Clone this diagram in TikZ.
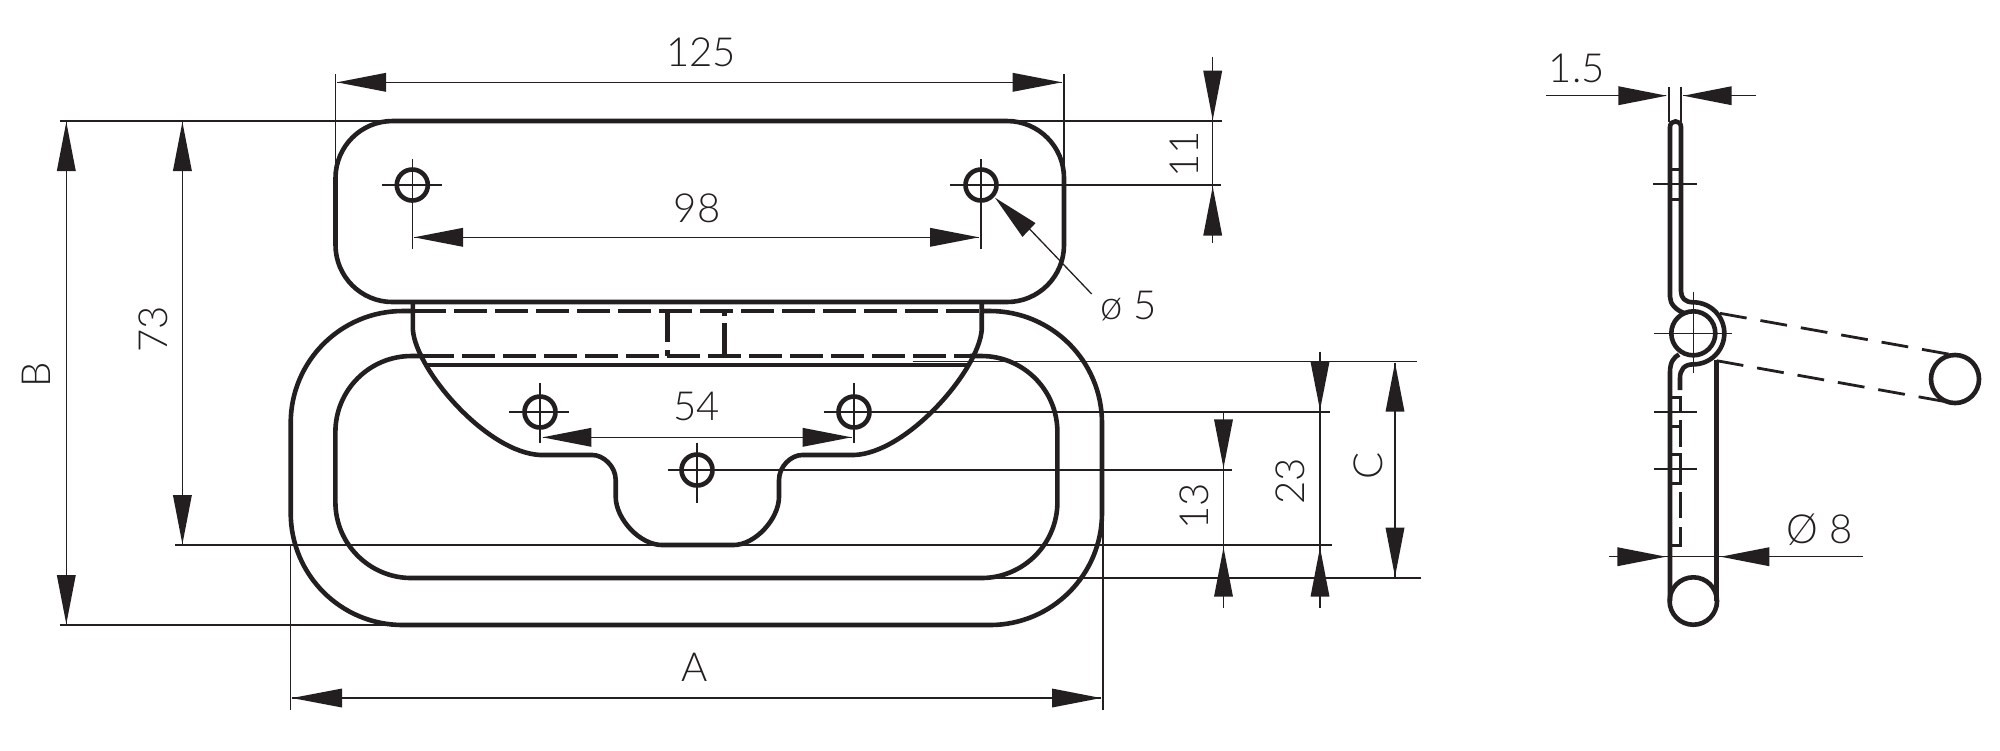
\documentclass[tikz,border=0pt]{standalone}
\usepackage{fontspec}
\setmainfont{Lato}[UprightFont=* Light]
\usetikzlibrary{calc}
\definecolor{ink}{HTML}{231F20}
\tikzset{
  thickl/.style={draw=ink,line width=.046cm,line join=round},
  thinl/.style={draw=ink,line width=.013cm},
  hidl/.style={draw=ink,line width=.046cm,dash pattern=on .33cm off .08cm},
  swingl/.style={draw=ink,line width=.028cm,dash pattern=on .27cm off .14cm},
  lbl/.style={text=ink,inner sep=0pt,font=\fontsize{11.4}{13}\selectfont},
}
\newcommand{\tip}[2]{\fill[ink] (#2) -- ($(#1)!.095cm!90:(#2)$) -- ($(#1)!.095cm!-90:(#2)$) -- cycle;}
\begin{document}
\begin{tikzpicture}[x=.01cm,y=-.01cm]
\useasboundingbox (0,0) rectangle (2000,750);
% ---- top plate
\draw[thickl,rounded corners=.57cm] (335.5,121) rectangle (1064,302);
\draw[thickl] (412.3,185) circle[radius=.155cm];
\draw[thickl] (981,185) circle[radius=.155cm];
% ---- ring
\draw[thickl,rounded corners=1.12cm] (413,311) -- (290.7,311) -- (290.7,625) -- (1102,625) -- (1102,311) -- (981.6,311);
\draw[thickl,rounded corners=.76cm] (423,356) -- (335.4,356) -- (335.4,578) -- (1057.4,578) -- (1057.4,356) -- (970,356);
\draw[hidl] (413,311) -- (981.6,311);
\draw[hidl] (421,356) -- (970,356);
\draw[thickl] (426,365) -- (968,365);
\draw[thickl] (667.5,311) -- (667.5,341.7) (667.5,350) -- (667.5,356);
\draw[thickl] (724.6,311) -- (724.6,316) (724.6,323) -- (724.6,356);
% ---- tongue
\draw[thickl] (412.9,302) -- (412.9,330)
  .. controls (416,370) and (487,453) .. (540.7,455) -- (592.5,455)
  .. controls (603,455) and (615.7,466) .. (615.7,480) -- (615.7,496.7)
  .. controls (615.7,519) and (640,545) .. (662,545) -- (733.6,545)
  .. controls (755,545) and (779,519) .. (779,496.7) -- (779,480)
  .. controls (779,466) and (791.5,455) .. (802,455) -- (853.9,455)
  .. controls (907.6,453) and (978.6,370) .. (981.7,330) -- (981.7,302);
\draw[thickl] (540,412) circle[radius=.155cm];
\draw[thickl] (854,412) circle[radius=.155cm];
\draw[thickl] (697,470) circle[radius=.155cm];
% ---- centre lines
\draw[thinl] (382,185) -- (441.7,185) (412.3,159) -- (412.3,249);
\draw[thinl] (950,185) -- (1220.7,185) (981,159) -- (981,249);
\draw[thinl] (509,412) -- (568.6,412) (540,382.7) -- (540,443.3);
\draw[thinl] (823.6,412) -- (1329.9,412) (854,382.7) -- (854,443.3);
\draw[thinl] (668,470) -- (1231.5,470) (697,442.7) -- (697,503);
% ---- extension lines
\draw[thinl] (60,121) -- (1222,121);
\draw[thinl] (60,625) -- (400,625);
\draw[thinl] (175,545) -- (1332,545);
\draw[thinl] (985,578) -- (1421,578);
\draw[thinl] (912.7,361.7) -- (1417,361.7);
\draw[thinl] (335.5,74) -- (335.5,170);
\draw[thinl] (1064,74) -- (1064,170);
\draw[thinl] (290.7,545) -- (290.7,710);
\draw[thinl] (1103,515) -- (1103,710);
% ---- dim 125
\draw[thinl] (337,82.3) -- (1062,82.3);
\tip{386,82.3}{337,82.3}\tip{1012.7,82.3}{1062,82.3}
\node[lbl] (t125) at (701,52.7) {125};
% ---- dim 98
\draw[thinl] (414,237.3) -- (979,237.3);
\tip{463,237.3}{414,237.3}\tip{930,237.3}{979,237.3}
\node[lbl] (t98) at (697,208) {98};
% ---- dim 11
\draw[thinl] (1212.7,57) -- (1212.7,243);
\tip{1212.7,70.7}{1212.7,120}\tip{1212.7,235.7}{1212.7,186.7}
\node[lbl,rotate=90] (t11) at (1184,154) {11};
% ---- dia 5
\draw[thinl] (1027.7,227) -- (1091.7,294);
\tip{1029,230}{995,197.7}
\node[lbl] (td5) at (1129,306) {ø 5};
% ---- dim 54
\draw[thinl] (542.5,437.3) -- (851.5,437.3);
\tip{591.4,437.3}{542.5,437.3}\tip{802.6,437.3}{851.5,437.3}
\node[lbl] (t54) at (696.8,406.7) {54};
% ---- dim 13
\draw[thinl] (1223.5,411.7) -- (1223.5,608);
\tip{1223.5,419.3}{1223.5,468}\tip{1223.5,596.7}{1223.5,547.5}
\node[lbl,rotate=90] (t13) at (1194,506) {13};
% ---- dim 23
\draw[thinl] (1320,351.7) -- (1320,608);
\tip{1320,361.7}{1320,410}\tip{1320,596.7}{1320,547.5}
\node[lbl,rotate=90] (t23) at (1290.4,481) {23};
% ---- dim C
\draw[thinl] (1395,362.7) -- (1395,576.7);
\tip{1395,411.7}{1395,362.7}\tip{1395,527.7}{1395,576.7}
\node[lbl,rotate=90] (tC) at (1368,465.7) {C};
% ---- dim 73
\draw[thinl] (182.4,122) -- (182.4,545);
\tip{182.4,171}{182.4,122}\tip{182.4,495}{182.4,544}
\node[lbl,rotate=90] (t73) at (153,329) {73};
% ---- dim B
\draw[thinl] (66.3,122) -- (66.3,624);
\tip{66.3,171}{66.3,122}\tip{66.3,575}{66.3,624}
\node[lbl,rotate=90] (tB) at (36,375) {B};
% ---- dim A
\draw[thinl] (292,698) -- (1101,698);
\tip{342,698}{292,698}\tip{1052,698}{1101,698}
\node[lbl] (tA) at (695,667) {A};
% ---- side view
\draw[thickl] (1684,313) .. controls (1676,310) and (1670,304) .. (1670,296.7) -- (1670,127)
  .. controls (1670,119.5) and (1681,119.5) .. (1681,127) -- (1681,291)
  .. controls (1681,298) and (1685,302.3) .. (1693.3,302.3)
  arc[start angle=90,end angle=-90,radius=.31cm]
  .. controls (1684,364.3) and (1680,370) .. (1680,378) -- (1680,390);
\draw[thickl] (1693.3,333.3) circle[radius=.22cm];
\draw[thickl] (1679,354.5) .. controls (1674,357) and (1670,362) .. (1670,372) -- (1670,601);
\draw[thickl] (1716.7,360) -- (1716.7,601);
\draw[thickl] (1693.3,601) circle[radius=.237cm];
\draw[thickl] (1955,379) circle[radius=.24cm];
\draw[swingl] (1720,313.3) -- (1956,355.4);
\draw[swingl] (1716.7,360.7) -- (1951,402.6);
% hidden edge and holes
\draw[draw=ink,line width=.03cm] (1670,169.3) -- (1681,169.3) (1670,199.3) -- (1681,199.3);
\draw[draw=ink,line width=.03cm] (1670,397.3) -- (1680,397.3) -- (1680,412) (1670,426.7) -- (1680,426.7) -- (1680,420);
\draw[draw=ink,line width=.03cm] (1680,428) -- (1680,447) (1680,492) -- (1680,518) (1680,527) -- (1680,545) -- (1670,545);
\draw[draw=ink,line width=.03cm] (1670,454.3) -- (1680,454.3) -- (1680,483.3) -- (1670,483.3);
\draw[draw=ink,line width=.02cm] (1653.3,184.3) -- (1696.7,184.3);
\draw[draw=ink,line width=.02cm] (1654,411.7) -- (1696.7,411.7);
\draw[draw=ink,line width=.02cm] (1654,469) -- (1696.7,469);
\draw[thinl] (1654.3,333.3) -- (1731.7,333.3) (1693.3,291.7) -- (1693.3,373);
% dim 1.5
\draw[thinl] (1546,95.7) -- (1666,95.7) (1683.3,95.7) -- (1756,95.7);
\tip{1618.3,95.7}{1666.7,95.7}\tip{1731.7,95.7}{1683.3,95.7}
\draw[thinl] (1669,86.7) -- (1669,122) (1681,86.7) -- (1681,122);
\node[lbl] (t15) at (1576.7,68) {1.5};
% dim dia 8
\draw[thinl] (1609.3,556.7) -- (1862.7,556.7);
\tip{1617.3,556.7}{1666,556.7}\tip{1769.3,556.7}{1720.7,556.7}
\node[lbl] (td8) at (1819.3,530) {Ø 8};
\end{tikzpicture}
\end{document}
